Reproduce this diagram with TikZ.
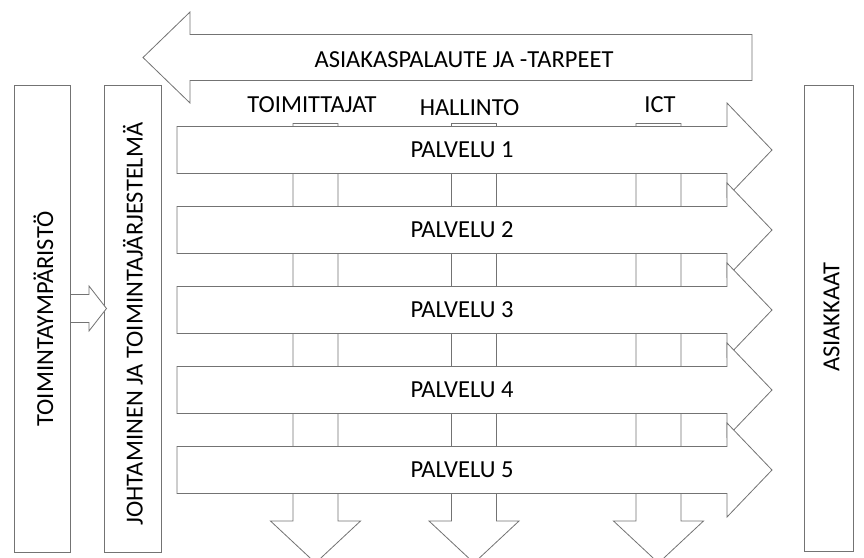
\documentclass[tikz,border=0pt]{standalone}
\usepackage{fontspec}
\setmainfont{Carlito}
\definecolor{linegray}{RGB}{115,115,115}
\tikzset{
  shp/.style={draw=linegray, fill=white, line width=0.8pt, line join=miter},
  lbl/.style={font=\fontsize{24.5}{28}\selectfont, inner sep=0pt, text=black},
  vbox/.style={shp, rectangle, inner sep=0pt, minimum height=467pt},
}
\begin{document}
\begin{tikzpicture}[x=1pt,y=-1pt]
\useasboundingbox (0,0) rectangle (864,557);
% left and right boxes
\node[vbox, minimum width=56.7pt] (env) at (42.3,318.7) {};
\node[vbox, minimum width=56.7pt] (mgmt) at (132.7,318.7) {};
\node[vbox, minimum width=49.5pt, minimum height=466pt] (cust) at (828.7,318) {};
\node[lbl, rotate=90] (envt) at (43.5,319) {TOIMINTAYMPÄRISTÖ};
\node[lbl, rotate=90] (mgmtt) at (133,324) {JOHTAMINEN JA TOIMINTAJÄRJESTELMÄ};
\node[lbl, rotate=90] (custt) at (831.5,317) {ASIAKKAAT};
% small block arrow env -> mgmt
\draw[shp] (env.east |- 0,294.5) -- (89,294.5) -- (89,286) -- (106.5,308.5) -- (89,331) -- (89,322.5) -- (env.east |- 0,322.5);
% top arrow
\draw[shp] (752,34.5) -- (190,34.5) -- (190,12) -- (143,57.5) -- (190,103) -- (190,80.5) -- (752,80.5) -- cycle;
\node[lbl] (fb) at (464,59.5) {ASIAKASPALAUTE JA -TARPEET};
% column down arrows
\foreach \c/\n in {315.5/c1,474/c2,658.5/c3}{
  \draw[shp] (\c-22.5,123.5) -- (\c+22.5,123.5) -- (\c+22.5,521) -- (\c+45,521) -- (\c,563) -- (\c-45,521) -- (\c-22.5,521) -- cycle;
}
\node[lbl] (sup) at (312,105) {TOIMITTAJAT};
\node[lbl] (adm) at (469.5,107.5) {HALLINTO};
\node[lbl] (ict) at (660,105) {ICT};
% service arrows
\foreach \y/\i in {150/1,230/2,310/3,390/4,470/5}{
  \draw[shp] (177,\y-23.5) -- (727,\y-23.5) -- (727,\y-47) -- (772,\y) -- (727,\y+47) -- (727,\y+23.5) -- (177,\y+23.5) -- cycle;
  \node[lbl] (p\i) at (462,\y) {PALVELU \i};
}
\end{tikzpicture}
\end{document}
